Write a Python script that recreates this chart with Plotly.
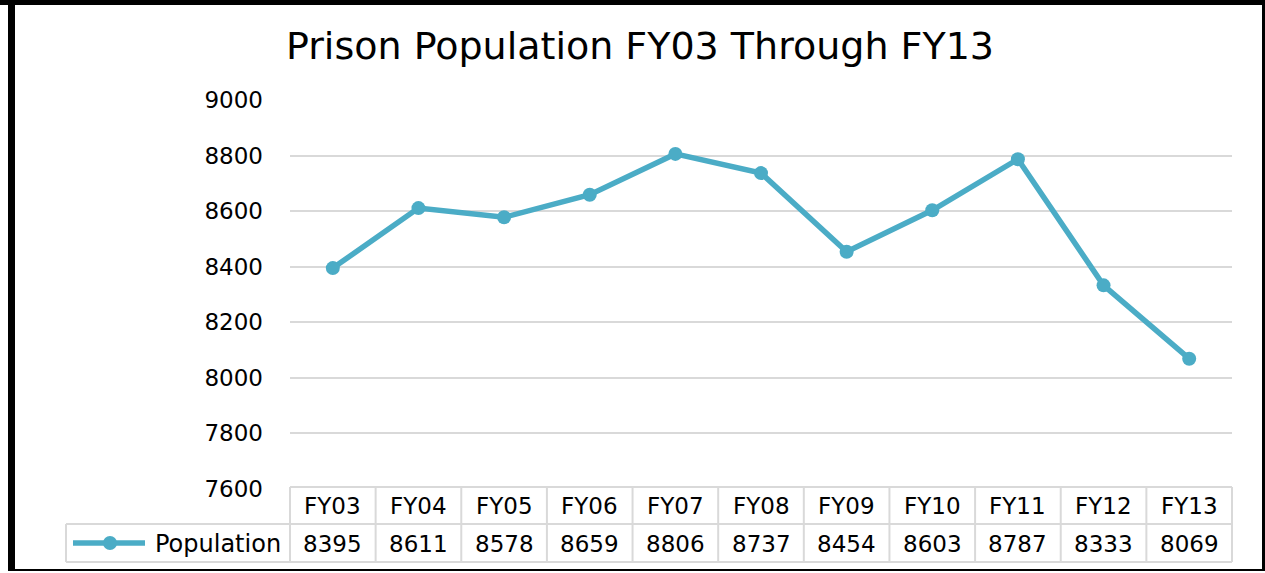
import plotly.graph_objects as go

categories = ["FY03", "FY04", "FY05", "FY06", "FY07", "FY08", "FY09", "FY10", "FY11", "FY12", "FY13"]
population = [8395, 8611, 8578, 8659, 8806, 8737, 8454, 8603, 8787, 8333, 8069]
series_name = "Population"
title_text = "Prison Population FY03 Through FY13"

W, H = 1265, 573
L, R, T, B = 290, 33, 100, 84
PW, PH = W - L - R, H - T - B
COLOR = "#4BACC6"
GRID = "#d9d9d9"
FONT = "DejaVu Sans"


def px(x):
    return (x - L) / PW


def py(y):
    return (H - B - y) / PH


fig = go.Figure()
fig.add_trace(go.Scatter(
    x=categories, y=population, mode="lines+markers", name=series_name,
    line=dict(color=COLOR, width=5.5), marker=dict(color=COLOR, size=14),
    showlegend=False, cliponaxis=False,
))

shapes = []
n = len(categories)
for k in range(n + 1):
    shapes.append(dict(type="line", xref="paper", yref="paper", x0=k / n, x1=k / n,
                       y0=py(487), y1=py(562), line=dict(color=GRID, width=2)))
shapes.append(dict(type="line", xref="paper", yref="paper", x0=0, x1=1,
                   y0=py(487), y1=py(487), line=dict(color=GRID, width=2)))
for yy in (524, 562):
    shapes.append(dict(type="line", xref="paper", yref="paper", x0=px(66), x1=1,
                       y0=py(yy), y1=py(yy), line=dict(color=GRID, width=2)))
shapes.append(dict(type="line", xref="paper", yref="paper", x0=px(66), x1=px(66),
                   y0=py(524), y1=py(562), line=dict(color=GRID, width=2)))
# legend key
shapes.append(dict(type="line", xref="paper", yref="paper", x0=px(73), x1=px(145),
                   y0=py(543), y1=py(543), line=dict(color=COLOR, width=5.5)))
shapes.append(dict(type="circle", xref="paper", yref="paper", x0=px(103), x1=px(117),
                   y0=py(550), y1=py(536), fillcolor=COLOR, line=dict(color=COLOR, width=0)))
# outer frame
for (x0, x1, y0, y1) in [(8, 15, 0, 571), (0, 1265, 0, 5), (1262, 1265, 0, 571), (8, 1265, 569, 571)]:
    shapes.append(dict(type="rect", xref="paper", yref="paper", x0=px(x0), x1=px(x1),
                       y0=py(y1), y1=py(y0), fillcolor="black", line=dict(width=0), layer="above"))

annotations = []
for i, (c, v) in enumerate(zip(categories, population)):
    xc = (i + 0.5) / n
    annotations.append(dict(xref="paper", yref="paper", x=xc, y=py(506), text=c, showarrow=False,
                            font=dict(family=FONT, size=23, color="black"), xanchor="center", yanchor="middle"))
    annotations.append(dict(xref="paper", yref="paper", x=xc, y=py(544), text=str(v), showarrow=False,
                            font=dict(family=FONT, size=23, color="black"), xanchor="center", yanchor="middle"))
annotations.append(dict(xref="paper", yref="paper", x=px(283), y=py(544), text=series_name, showarrow=False,
                        font=dict(family=FONT, size=24, color="black"), xanchor="right", yanchor="middle"))

fig.update_layout(
    width=W, height=H, autosize=False,
    margin=dict(l=L, r=R, t=T, b=B),
    paper_bgcolor="white", plot_bgcolor="white",
    title=dict(text=title_text, x=640 / W, xanchor="center", y=1 - 46 / H, yanchor="middle",
               font=dict(family=FONT, size=38, color="black")),
    xaxis=dict(range=[-0.5, n - 0.5], showticklabels=False, showgrid=False, zeroline=False,
               showline=False, fixedrange=True),
    yaxis=dict(range=[7600, 9000], dtick=200, showgrid=True, gridcolor=GRID, gridwidth=2,
               zeroline=False, showline=False, ticks="", ticklabelstandoff=26,
               tickfont=dict(family=FONT, size=23, color="black"), fixedrange=True),
    shapes=shapes, annotations=annotations,
)

fig.write_html("out.html", config={"displayModeBar": False},
               post_script="document.body.style.margin='0';document.body.style.overflow='hidden';")
